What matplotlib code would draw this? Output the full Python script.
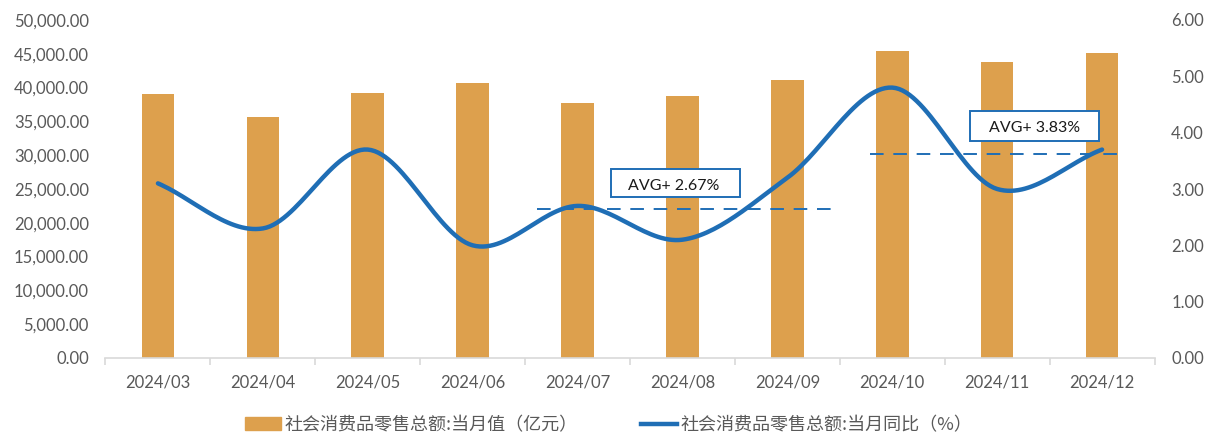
import numpy as np
import matplotlib.pyplot as plt
from matplotlib.patches import Patch, Rectangle
from matplotlib.lines import Line2D

plt.rcParams['font.family'] = ['Lato', 'Noto Sans CJK SC', 'DejaVu Sans']

# data
months = ['2024/03', '2024/04', '2024/05', '2024/06', '2024/07',
          '2024/08', '2024/09', '2024/10', '2024/11', '2024/12']
retail_value = [39020, 35699, 39211, 40732, 37757, 38726, 41112, 45396, 43763, 45172]  # 亿元
retail_yoy = [3.1, 2.3, 3.7, 2.0, 2.7, 2.1, 3.2, 4.8, 3.0, 3.7]  # %
avg_labels = ['AVG+ 2.67%', 'AVG+ 3.83%']

# annotation placement (category index / right-axis units)
avg_levels = [2.65, 3.62]
avg_spans = [(3.61, 6.50), (6.79, 9.21)]
text_pos = [(4.915, 3.06), (8.352, 4.09)]
box_x = [(4.319, 5.549), (7.741, 8.971)]
box_y = [(2.850, 3.363), (3.858, 4.389)]

bar_color = '#DDA04D'
line_color = '#1F6EB5'
text_gray = '#595959'


def smooth(y, n=30):
    # Catmull-Rom spline through the points, like Excel's smoothed line
    y = np.asarray(y, dtype=float)
    p = np.concatenate([[2 * y[0] - y[1]], y, [2 * y[-1] - y[-2]]])
    xs, ys = [], []
    for i in range(len(y) - 1):
        p0, p1, p2, p3 = p[i], p[i + 1], p[i + 2], p[i + 3]
        t = np.linspace(0, 1, n, endpoint=False)
        yy = 0.5 * (2 * p1 + (-p0 + p2) * t + (2 * p0 - 5 * p1 + 4 * p2 - p3) * t ** 2
                    + (-p0 + 3 * p1 - 3 * p2 + p3) * t ** 3)
        xs.append(i + t)
        ys.append(yy)
    xs.append([len(y) - 1])
    ys.append([y[-1]])
    return np.concatenate(xs), np.concatenate(ys)


fig = plt.figure(figsize=(12.05, 4.34), dpi=100)
ax = fig.add_axes([105.5 / 1205, 1 - 358 / 434, 1049 / 1205, 338 / 434])
ax2 = ax.twinx()

x = np.arange(len(months))
ax.bar(x, retail_value, width=0.31, color=bar_color, zorder=2)
ax.set_xlim(-0.5, len(months) - 0.5)
ax.set_ylim(0, 50000)
ax.set_yticks(np.arange(0, 50001, 5000))
ax.set_yticklabels([f'{v:,.2f}' for v in np.arange(0, 50001, 5000)])

xs, ys = smooth(retail_yoy)
ax2.plot(xs, ys, color=line_color, lw=3.2, solid_capstyle='round', zorder=3)
ax2.set_ylim(0, 6)
ax2.set_yticks(np.arange(0, 6.01, 1))
ax2.set_yticklabels([f'{v:.2f}' for v in np.arange(0, 6.01, 1)])

for lvl, (x0, x1) in zip(avg_levels, avg_spans):
    ax2.plot([x0, x1], [lvl, lvl], color=line_color, lw=1.4, dashes=(7, 5), zorder=4)
for lab, (tx, ty), (bx0, bx1), (by0, by1) in zip(avg_labels, text_pos, box_x, box_y):
    ax2.add_patch(Rectangle((bx0, by0), bx1 - bx0, by1 - by0, fc='white',
                            ec=line_color, lw=1.4, zorder=5))
    ax2.text(tx, ty, lab, ha='center', va='center', fontsize=11.5, color='#1a1a1a', zorder=6)

for a in (ax, ax2):
    for s in a.spines.values():
        s.set_visible(False)
    a.tick_params(axis='y', length=0, labelsize=12, labelcolor=text_gray, pad=12)
ax.spines['bottom'].set_visible(True)
ax.spines['bottom'].set_color('#D9D9D9')
ax.spines['bottom'].set_linewidth(1.2)

ax.set_xticks(np.arange(-0.5, len(months), 1))
ax.set_xticklabels([])
ax.tick_params(axis='x', length=5, color='#D9D9D9', width=1.2)
ax.set_xticks(x, minor=True)
ax.set_xticklabels(months, minor=True)
ax.tick_params(axis='x', which='minor', length=0, pad=12, labelsize=12, labelcolor=text_gray)

handles = [Patch(color=bar_color), Line2D([0], [0], color=line_color, lw=3.2)]
labels = ['社会消费品零售总额:当月值（亿元）', '社会消费品零售总额:当月同比（%）']
fig.legend(handles, labels, loc='center', bbox_to_anchor=(0.505, 9 / 434),
           ncol=2, frameon=False, handlelength=2.0, handletextpad=0.2,
           columnspacing=3.5, labelcolor=text_gray,
           prop={'family': ['Noto Sans CJK SC', 'DejaVu Sans'], 'size': 13})

fig.savefig('out.png', dpi=100)
